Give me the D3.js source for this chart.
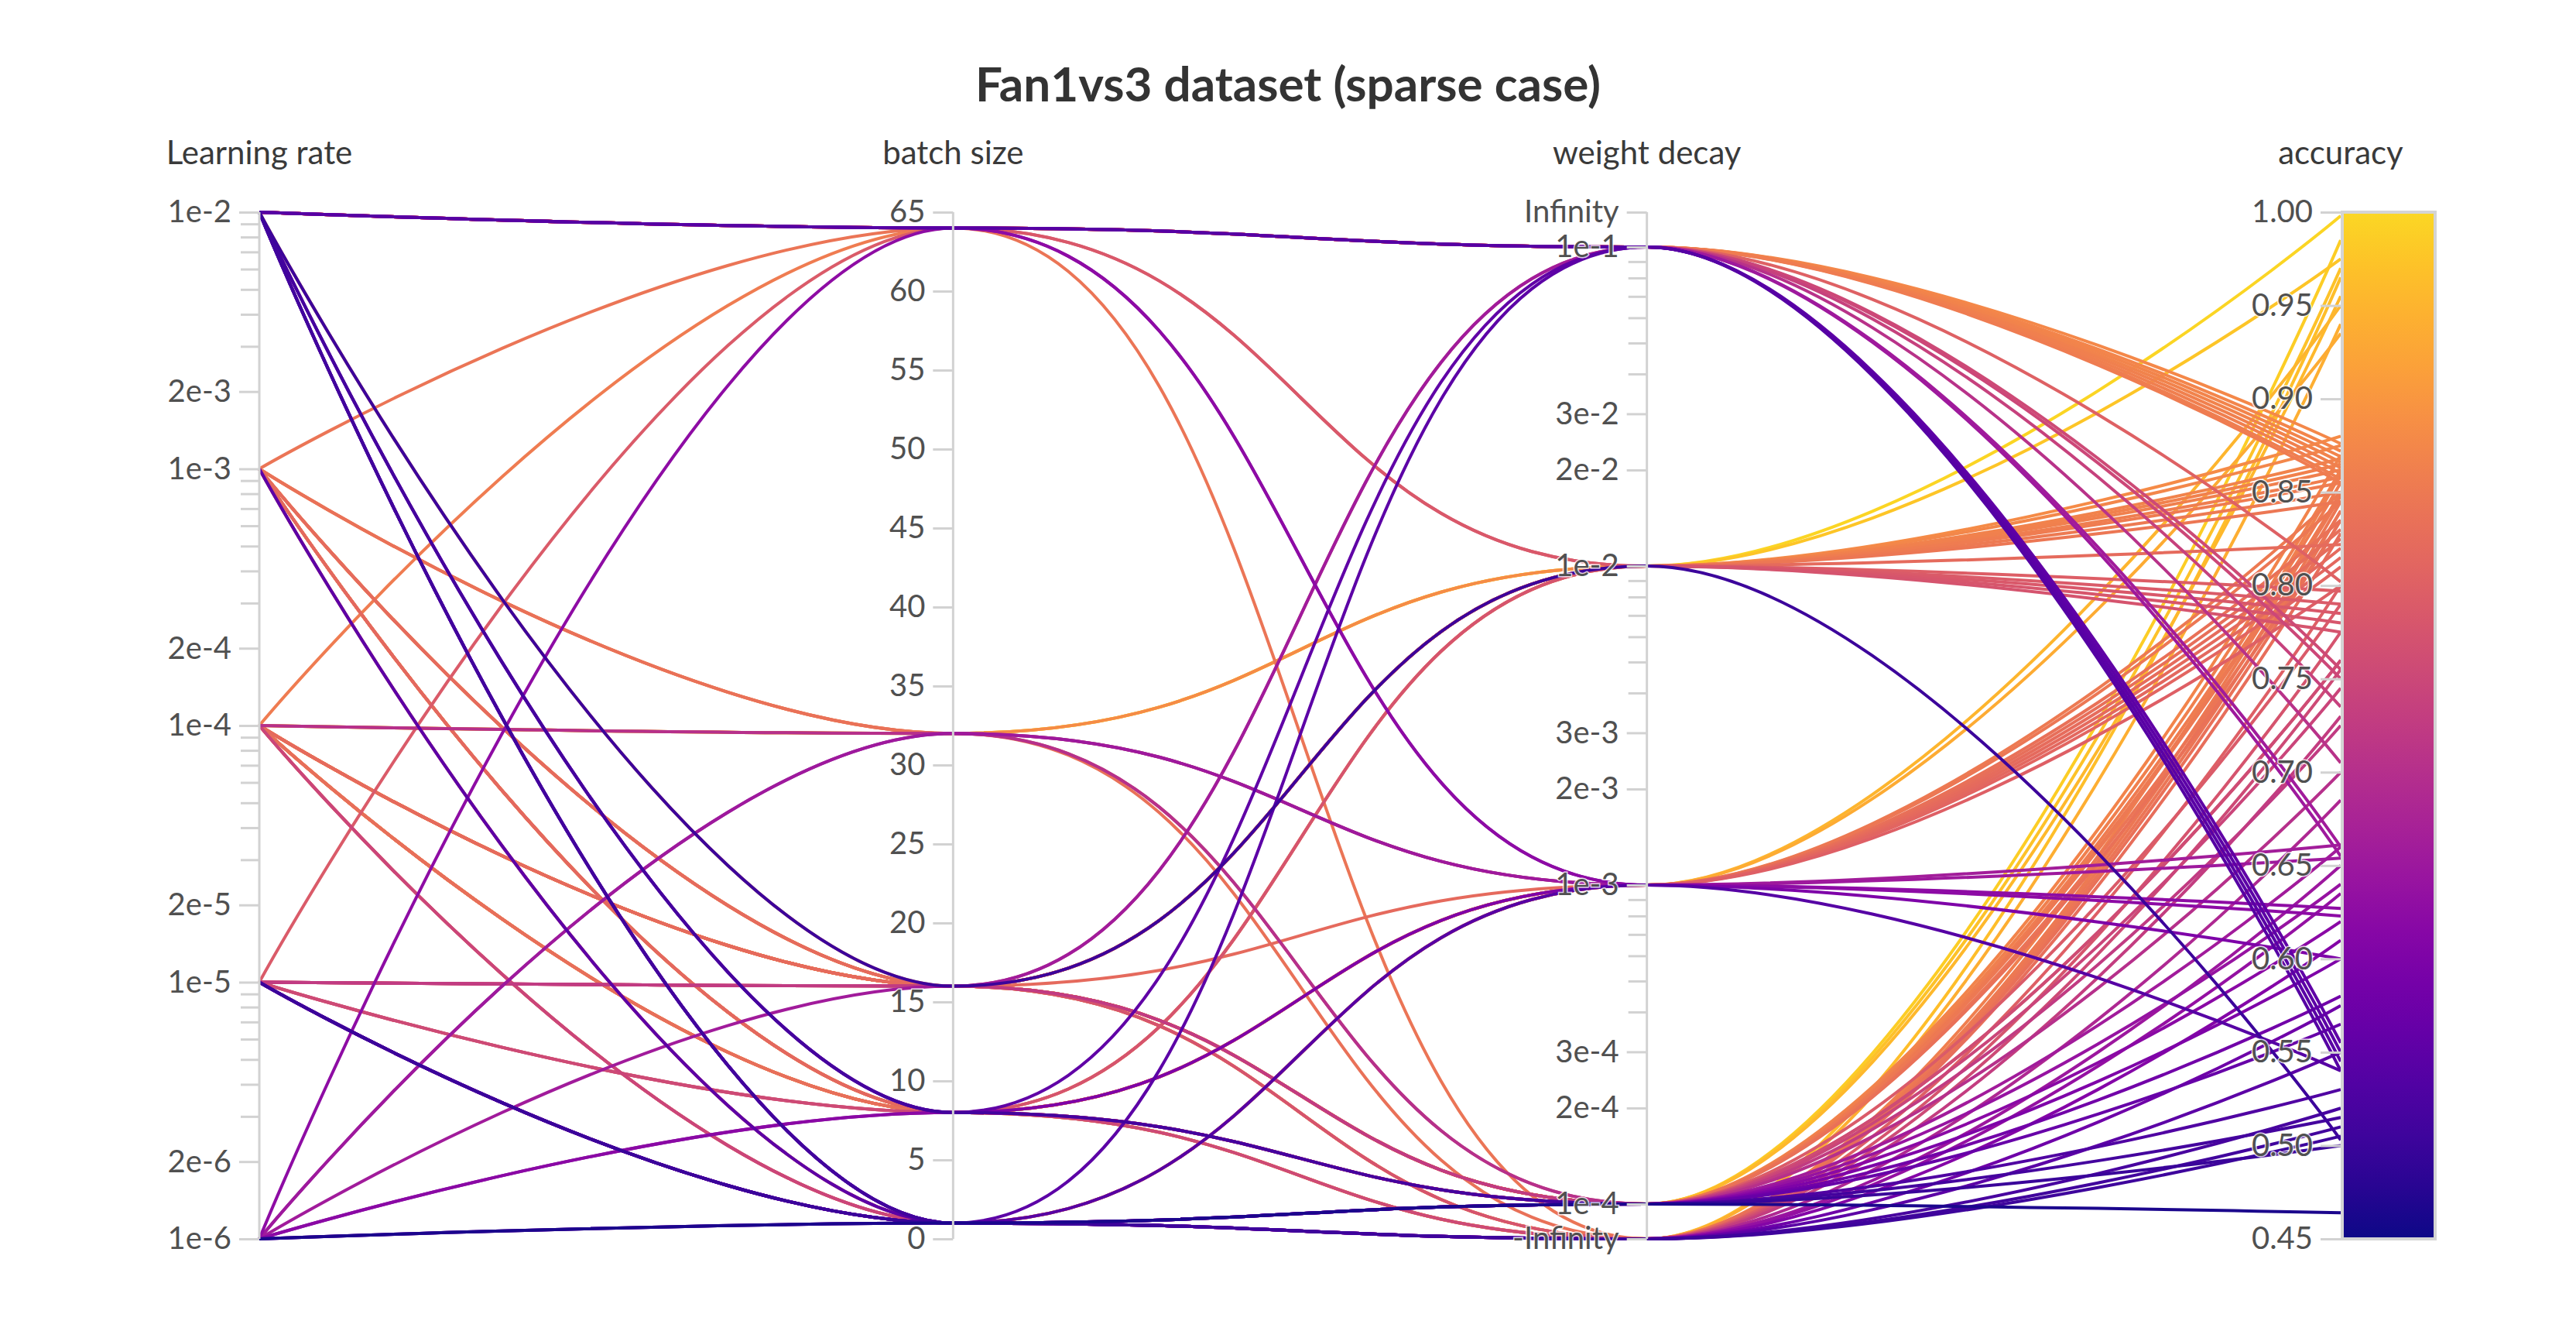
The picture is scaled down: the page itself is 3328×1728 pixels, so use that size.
<!DOCTYPE html>
<html>
<head>
<meta charset="utf-8">
<script src="https://cdn.jsdelivr.net/npm/d3@7"></script>
<style>
  html, body { margin: 0; padding: 0; background: #fff; }
  #svg-container { width: 3328px; height: 1728px; }
  text { font-family: "Source Sans Pro", Lato, "Noto Sans", sans-serif; }
</style>
</head>
<body>
<div id="svg-container"></div>
<script>
// one entry per run, same index in every array
// grouped by weight decay: 1e-1, 1e-2, 1e-3, 1e-4, 0
const learningRate = [
  1e-2, 1e-2, 1e-2, 1e-2, 1e-2, 1e-2, 1e-2, 1e-2, 1e-2, 1e-2, 1e-2, 1e-2, 1e-2, 1e-2, 1e-4, 1e-5, 1e-6, 1e-2, 1e-2,
  1e-4, 1e-4, 1e-3, 1e-3, 1e-4, 1e-4, 1e-4, 1e-3, 1e-2, 1e-4, 1e-4, 1e-3, 1e-5, 1e-2, 1e-5, 1e-5, 1e-5, 1e-2,
  1e-2, 1e-6, 1e-6, 1e-6, 1e-3, 1e-4, 1e-3, 1e-4, 1e-4, 1e-2, 1e-2, 1e-4, 1e-3, 1e-4, 1e-3, 1e-4, 1e-3,
  1e-4, 1e-4, 1e-3, 1e-3, 1e-4, 1e-4, 1e-4, 1e-3, 1e-4, 1e-3, 1e-4, 1e-5, 1e-5, 1e-4, 1e-5, 1e-4, 1e-6, 1e-6, 1e-5, 1e-5, 1e-5, 1e-5, 1e-2, 1e-5, 1e-6, 1e-2,
  1e-4, 1e-3, 1e-3, 1e-3, 1e-4, 1e-3, 1e-4, 1e-3, 1e-4, 1e-5, 1e-3, 1e-5, 1e-5, 1e-5, 1e-5, 1e-6, 1e-2, 1e-2, 1e-5, 1e-3, 1e-6
];
const batchSize = [
  64, 64, 64, 64, 64, 64, 64, 64, 64, 64, 64, 64, 64, 64, 64, 16, 16, 8, 1,
  32, 32, 32, 16, 16, 16, 8, 8, 16, 16, 16, 16, 64, 64, 16, 8, 16, 16,
  64, 64, 32, 32, 32, 16, 8, 8, 8, 8, 1, 1, 1, 8, 8, 1, 8,
  8, 16, 16, 16, 16, 16, 16, 8, 8, 16, 32, 16, 8, 1, 16, 32, 8, 8, 1, 1, 1, 1, 1, 1, 1, 8,
  16, 8, 64, 32, 16, 16, 8, 8, 1, 16, 1, 8, 1, 1, 1, 1, 1, 1, 1, 1, 1
];
const weightDecay = [
  1e-1, 1e-1, 1e-1, 1e-1, 1e-1, 1e-1, 1e-1, 1e-1, 1e-1, 1e-1, 1e-1, 1e-1, 1e-1, 1e-1, 1e-1, 1e-1, 1e-1, 1e-1, 1e-1,
  1e-2, 1e-2, 1e-2, 1e-2, 1e-2, 1e-2, 1e-2, 1e-2, 1e-2, 1e-2, 1e-2, 1e-2, 1e-2, 1e-2, 1e-2, 1e-2, 1e-2, 1e-2,
  1e-3, 1e-3, 1e-3, 1e-3, 1e-3, 1e-3, 1e-3, 1e-3, 1e-3, 1e-3, 1e-3, 1e-3, 1e-3, 1e-3, 1e-3, 1e-3, 1e-3,
  1e-4, 1e-4, 1e-4, 1e-4, 1e-4, 1e-4, 1e-4, 1e-4, 1e-4, 1e-4, 1e-4, 1e-4, 1e-4, 1e-4, 1e-4, 1e-4, 1e-4, 1e-4, 1e-4, 1e-4, 1e-4, 1e-4, 1e-4, 1e-4, 1e-4, 1e-4,
  0, 0, 0, 0, 0, 0, 0, 0, 0, 0, 0, 0, 0, 0, 0, 0, 0, 0, 0, 0, 0
];
const accuracy = [
  0.876, 0.872, 0.869, 0.866, 0.863, 0.860, 0.857, 0.802, 0.755, 0.750, 0.705, 0.655, 0.545, 0.540, 0.855, 0.735, 0.660, 0.555, 0.550,
  0.998, 0.975, 0.880, 0.875, 0.865, 0.862, 0.858, 0.855, 0.850, 0.845, 0.868, 0.822, 0.790, 0.785, 0.780, 0.775, 0.797, 0.503,
  0.623, 0.627, 0.661, 0.654, 0.850, 0.820, 0.845, 0.835, 0.830, 0.600, 0.540, 0.810, 0.800, 0.935, 0.950, 0.825, 0.815,
  0.955, 0.985, 0.970, 0.870, 0.850, 0.848, 0.862, 0.855, 0.840, 0.835, 0.760, 0.760, 0.790, 0.745, 0.725, 0.700, 0.640, 0.620, 0.660, 0.600, 0.580, 0.565, 0.530, 0.500, 0.464, 0.515,
  0.940, 0.965, 0.840, 0.835, 0.845, 0.860, 0.850, 0.828, 0.800, 0.775, 0.730, 0.755, 0.685, 0.650, 0.635, 0.610, 0.575, 0.510, 0.520, 0.550, 0.505
];

const dimensions = ["Learning rate", "batch size", "weight decay", "accuracy"];
const lrTicks = [1e-2, 2e-3, 1e-3, 2e-4, 1e-4, 2e-5, 1e-5, 2e-6, 1e-6];
const batchTicks = [0, 5, 10, 15, 20, 25, 30, 35, 40, 45, 50, 55, 60, 65];
const wdTicks = [1e-1, 3e-2, 2e-2, 1e-2, 3e-3, 2e-3, 1e-3, 3e-4, 2e-4, 1e-4];
const wdEndLabels = ["Infinity", "-Infinity"];
const accTicks = [0.45, 0.50, 0.55, 0.60, 0.65, 0.70, 0.75, 0.80, 0.85, 0.90, 0.95, 1.00];

document.addEventListener("DOMContentLoaded", function() {

const width = 3328;
const height = 1728;
const axisTop = 274;
const axisBottom = 1600;

const svg = d3.select("#svg-container").append("svg")
    .attr("width", width)
    .attr("height", height)
    .attr("viewBox", [0, 0, width, height]);

svg.append("rect").attr("width", width).attr("height", height).attr("fill", "#fff");

const x = d3.scalePoint().domain(dimensions).range([335, 3024]);

const lrY = d3.scaleLog().domain([1e-6, 1e-2]).range([axisBottom, axisTop]);
const bsY = d3.scaleLinear().domain([0, 65]).range([axisBottom, axisTop]);
// weight decay: finite values inside, 0 sits on -Infinity at the bottom
const wdPad = 45;
const wdY = d3.scaleLog().domain([1e-4, 1e-1]).range([axisBottom - wdPad, axisTop + wdPad]);
const wdEnds = d3.scaleOrdinal().domain(wdEndLabels).range([axisTop, axisBottom]);
const wdPos = v => v > 0 ? wdY(v) : wdEnds("-Infinity");
const accY = d3.scaleLinear().domain([0.45, 1.0]).range([axisBottom, axisTop]);

const color = v => d3.interpolatePlasma(0.92 * (v - 0.45) / 0.55);

const runs = accuracy.map((acc, i) => ({lr: learningRate[i], bs: batchSize[i], wd: weightDecay[i], acc}));
// low accuracy on top
runs.sort((a, b) => d3.descending(a.acc, b.acc));

function runPath(d) {
    const pts = [
        [x("Learning rate"), lrY(d.lr)],
        [x("batch size"), bsY(d.bs)],
        [x("weight decay"), wdPos(d.wd)],
        [x("accuracy"), accY(d.acc)]
    ];
    const p = d3.path();
    p.moveTo(pts[0][0], pts[0][1]);
    for (let i = 0; i < pts.length - 1; i++) {
        const [x0, y0] = pts[i];
        const [x1, y1] = pts[i + 1];
        const dx = x1 - x0;
        const k0 = i === 0 ? 0 : (i === pts.length - 2 ? 0.4 : 0.5);
        const k1 = i === pts.length - 2 ? 0 : (i === 0 ? 0.4 : 0.5);
        p.bezierCurveTo(x0 + k0 * dx, y0, x1 - k1 * dx, y1, x1, y1);
    }
    return p.toString();
}

// lines
svg.append("g")
    .attr("fill", "none")
    .attr("stroke-width", 4)
    .selectAll("path")
    .data(runs)
    .join("path")
    .attr("d", runPath)
    .attr("stroke", d => color(d.acc));

// colour bar
const defs = svg.append("defs");
const grad = defs.append("linearGradient")
    .attr("id", "accGrad")
    .attr("x1", 0).attr("y1", 1).attr("x2", 0).attr("y2", 0);
grad.selectAll("stop")
    .data(d3.range(0, 1.0001, 0.05))
    .join("stop")
    .attr("offset", t => t)
    .attr("stop-color", t => color(0.45 + t * 0.55));

svg.append("rect")
    .attr("x", x("accuracy") + 2)
    .attr("y", accY(1.0))
    .attr("width", 120)
    .attr("height", accY(0.45) - accY(1.0))
    .attr("fill", "url(#accGrad)")
    .attr("stroke", "#d4d4d4")
    .attr("stroke-width", 4);

const gridGrey = "#d2d2d2";

function styleAxis(g) {
    g.select(".domain").remove();
    g.selectAll(".tick line").attr("stroke", gridGrey).attr("stroke-width", 3);
    g.selectAll(".tick text")
        .attr("font-size", 40)
        .attr("fill", "#505050")
        .attr("stroke", "#fff")
        .attr("stroke-width", 3)
        .attr("stroke-opacity", 0.8)
        .attr("paint-order", "stroke");
}

function minorTicks(exps, mults) {
    return exps.flatMap(e => mults.map(m => m * Math.pow(10, e)));
}

// axis lines
svg.append("g")
    .selectAll("line")
    .data(dimensions.slice(0, 3))
    .join("line")
    .attr("x1", d => x(d)).attr("x2", d => x(d))
    .attr("y1", axisTop).attr("y2", axisBottom)
    .attr("stroke", gridGrey)
    .attr("stroke-width", 3);

const expFmt = v => v.toExponential(0);

// learning rate
svg.append("g")
    .attr("transform", `translate(${x("Learning rate")},0)`)
    .call(d3.axisLeft(lrY).tickValues(minorTicks([-6, -5, -4, -3], [3, 4, 5, 6, 7, 8, 9])).tickFormat("").tickSize(24).tickSizeOuter(0))
    .call(styleAxis);
svg.append("g")
    .attr("transform", `translate(${x("Learning rate")},0)`)
    .call(d3.axisLeft(lrY).tickValues(lrTicks).tickFormat(expFmt).tickSize(26).tickPadding(10).tickSizeOuter(0))
    .call(styleAxis);

// batch size
svg.append("g")
    .attr("transform", `translate(${x("batch size")},0)`)
    .call(d3.axisLeft(bsY).tickValues(batchTicks).tickSize(26).tickPadding(10).tickSizeOuter(0))
    .call(styleAxis);

// weight decay
svg.append("g")
    .attr("transform", `translate(${x("weight decay")},0)`)
    .call(d3.axisLeft(wdY).tickValues(minorTicks([-4, -3, -2], [4, 5, 6, 7, 8, 9])).tickFormat("").tickSize(24).tickSizeOuter(0))
    .call(styleAxis);
svg.append("g")
    .attr("transform", `translate(${x("weight decay")},0)`)
    .call(d3.axisLeft(wdY).tickValues(wdTicks).tickFormat(expFmt).tickSize(26).tickPadding(10).tickSizeOuter(0))
    .call(styleAxis);
svg.append("g")
    .attr("transform", `translate(${x("weight decay")},0)`)
    .call(d3.axisLeft(wdEnds).tickSize(26).tickPadding(10).tickSizeOuter(0))
    .call(styleAxis);

// accuracy
svg.append("g")
    .attr("transform", `translate(${x("accuracy")},0)`)
    .call(d3.axisLeft(accY).tickValues(accTicks).tickFormat(d3.format(".2f")).tickSize(26).tickPadding(10).tickSizeOuter(0))
    .call(styleAxis);

// axis titles
svg.append("g")
    .selectAll("text")
    .data(dimensions)
    .join("text")
    .attr("x", d => x(d))
    .attr("y", 212)
    .attr("text-anchor", "middle")
    .attr("font-size", 42)
    .attr("fill", "#3a3a3a")
    .text(d => d);

// chart title
svg.append("text")
    .attr("x", width / 2)
    .attr("y", 131)
    .attr("text-anchor", "middle")
    .attr("font-size", 62)
    .attr("font-weight", 700)
    .attr("fill", "#333")
    .text("Fan1vs3 dataset (sparse case)");

});
</script>
</body>
</html>
